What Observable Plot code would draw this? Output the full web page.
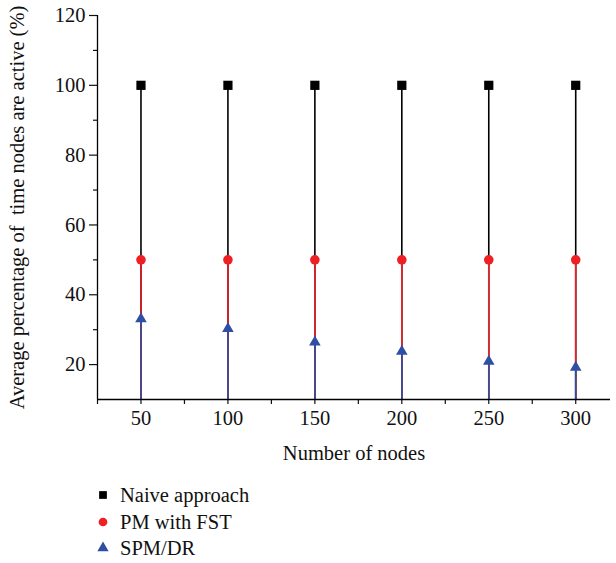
<!DOCTYPE html>
<html><head><meta charset="utf-8">
<script src="https://cdn.jsdelivr.net/npm/d3@7"></script>
<script src="https://cdn.jsdelivr.net/npm/@observablehq/plot@0.6"></script>
<style>
body{margin:0;background:#fff;font-family:"Liberation Serif","DejaVu Serif",serif;}
#wrap{position:relative;width:616px;height:563px;}
#chart{position:absolute;left:0;top:0;}
#legend{position:absolute;left:96px;top:482px;font-size:20.5px;color:#111;line-height:26.5px;}
#legend div{display:flex;align-items:center;height:26.5px;}
#legend svg{width:14px;height:14px;margin-right:10px;}
</style>
</head><body><div id="wrap"><div id="chart"></div><div id="legend"></div></div>
<script>
const nodes = [50, 100, 150, 200, 250, 300];
const naive = [100, 100, 100, 100, 100, 100];
const pmFst = [50, 50, 50, 50, 50, 50];
const spmDr = [33.1, 30.3, 26.4, 23.8, 20.9, 19.2];
const seriesNames = ["Naive approach", "PM with FST", "SPM/DR"];
const seriesColors = ["#000000", "#ee2024", "#2e4fa3"];
const seriesSymbols = ["square", "circle", "triangle"];
const xTicks = [50, 100, 150, 200, 250, 300];
const xMinor = [25, 75, 125, 175, 225, 275];
const yTicks = [20, 40, 60, 80, 100, 120];
const yMinor = [30, 50, 70, 90, 110];

const seriesValues = [naive, pmFst, spmDr];
const rows = [];
seriesValues.forEach((vals, s) => nodes.forEach((n, i) => rows.push({n, v: vals[i], s: seriesNames[s]})));

const color = {domain: seriesNames, range: seriesColors};
const symbol = {domain: seriesNames, range: seriesSymbols};

const chart = Plot.plot({
  width: 616, height: 478,
  marginTop: 15, marginLeft: 97, marginRight: 6, marginBottom: 79,
  style: {fontFamily: '"Liberation Serif","DejaVu Serif",serif', background: "transparent", color: "#111"},
  x: {domain: [25, 320]},
  y: {domain: [10, 120]},
  color, symbol,
  marks: [
    Plot.ruleX(rows, {x: "n", y1: 10, y2: "v", stroke: "s", strokeWidth: 1.6}),
    Plot.dot(rows.filter(d => d.s === seriesNames[0]), {x: "n", y: "v", symbol: "s", fill: "s", r: 5.2}),
    Plot.dot(rows.filter(d => d.s === seriesNames[1]), {x: "n", y: "v", symbol: "s", fill: "s", r: 4.8}),
    Plot.dot(rows.filter(d => d.s === seriesNames[2]), {x: "n", y: "v", symbol: "s", fill: "s", r: 4.3}),
    Plot.axisX(xTicks, {tickSize: 5, tickPadding: 6, fontSize: 20.5, strokeWidth: 1.2,
      label: "Number of nodes", labelAnchor: "center", labelArrow: "none", labelOffset: 60}),
    Plot.axisX(xMinor, {tickSize: 5, tickFormat: () => "", strokeWidth: 1.2, label: null}),
    Plot.axisY(yTicks, {tickSize: 8, tickPadding: 4, fontSize: 20.5, strokeWidth: 1.2,
      label: "Average percentage of \u00a0time nodes are active (%)", labelAnchor: "center", labelArrow: "none", labelOffset: 88}),
    Plot.axisY(yMinor, {tickSize: 4, tickFormat: () => "", strokeWidth: 1.2, label: null}),
    Plot.ruleY([10], {stroke: "#000", strokeWidth: 1.3}),
    Plot.ruleX([25], {stroke: "#000", strokeWidth: 1.3})
  ]
});
chart.querySelectorAll("g[aria-label$='tick label'] text").forEach(t => { t.style.fontSize = "20.5px"; });
document.getElementById("chart").appendChild(chart);

const legend = document.getElementById("legend");
seriesNames.forEach((name, i) => {
  const row = document.createElement("div");
  const sym = d3.symbol().type([d3.symbolSquare, d3.symbolCircle, d3.symbolTriangle][i]).size([60, 60, 55][i]);
  row.innerHTML = `<svg viewBox="-7 -7 14 14"><path d="${sym()}" fill="${seriesColors[i]}"/></svg><span>${name}</span>`;
  legend.appendChild(row);
});
</script></body></html>
